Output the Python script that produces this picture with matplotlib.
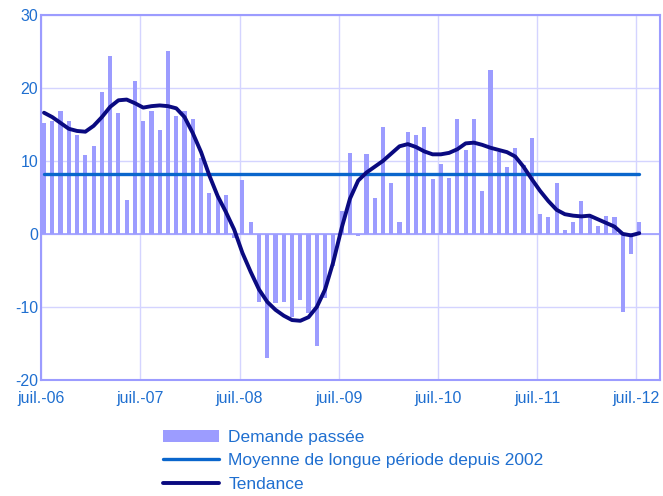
import numpy as np
import matplotlib
matplotlib.use("Agg")
import matplotlib.pyplot as plt

plt.rcParams["font.family"] = ["Liberation Sans", "DejaVu Sans"]
plt.rcParams["axes.unicode_minus"] = False

# monthly values, juil.-06 .. juil.-12
demande = [15.2, 15.4, 16.9, 15.4, 13.6, 10.8, 12.1, 19.5, 24.3, 16.5,
           4.6, 20.9, 15.4, 16.9, 14.3, 25.0, 16.2, 16.9, 15.8, 10.4,
           5.6, 5.2, 5.3, -0.6, 7.4, 1.6, -9.3, -17.0, -9.4, -9.3,
           -11.4, -9.0, -10.9, -15.3, -8.8, -4.4, 3.1, 11.1, -0.3, 10.9,
           4.9, 14.7, 7.0, 1.6, 14.0, 13.6, 14.7, 7.5, 9.6, 7.7,
           15.8, 11.5, 15.8, 5.9, 22.4, 11.2, 9.2, 11.8, 9.5, 13.2,
           2.7, 2.3, 7.0, 0.5, 1.6, 4.5, 2.3, 1.1, 2.4, 2.3,
           -10.7, -2.8, 1.6]
tendance = [16.6, 16.0, 15.2, 14.4, 14.1, 14.0, 14.8, 16.0, 17.4, 18.3,
            18.4, 17.9, 17.3, 17.5, 17.6, 17.5, 17.2, 16.0, 13.8, 11.2,
            8.0, 5.2, 3.0, 0.6, -2.6, -5.2, -7.6, -9.3, -10.4, -11.2,
            -11.8, -11.9, -11.4, -10.0, -7.6, -3.8, 0.8, 4.8, 7.3, 8.4,
            9.2, 10.0, 11.0, 12.0, 12.3, 11.9, 11.3, 10.9, 10.9, 11.1,
            11.6, 12.4, 12.5, 12.2, 11.8, 11.5, 11.2, 10.6, 9.2, 7.5,
            5.9, 4.5, 3.3, 2.7, 2.5, 2.4, 2.5, 2.0, 1.5, 1.0,
            0.0, -0.2, 0.1]
moyenne = 8.2
tick_labels = ["juil.-06", "juil.-07", "juil.-08", "juil.-09",
               "juil.-10", "juil.-11", "juil.-12"]

BLUE_TXT = "#1f6fd0"
BAR = "#9c9cff"
GRID = "#d4d4ff"

fig = plt.figure(figsize=(6.63, 4.96), dpi=100)
ax = fig.add_axes([0.062, 0.234, 0.934, 0.736])

x = np.arange(len(demande)) + 0.35
ax.bar(x, demande, width=0.5, color=BAR, zorder=2, label="Demande passée")
ax.plot([x[0], x[-1]], [moyenne, moyenne], color="#0a66cc", lw=2.4,
        solid_capstyle="round", zorder=3,
        label="Moyenne de longue période depuis 2002")
ax.plot(x, tendance, color="#0a0a80", lw=2.8, zorder=4,
        solid_capstyle="round", label="Tendance")

ax.axhline(0, color=BAR, lw=1.2, zorder=1)
ax.set_xlim(0, 74.9)
ax.set_ylim(-20, 30)
ax.set_yticks(range(-20, 31, 10))
ax.set_xticks(range(0, 73, 12))
ax.set_xticklabels(tick_labels)
ax.grid(True, color=GRID, lw=1.0, zorder=0)
ax.set_axisbelow(True)
for s in ax.spines.values():
    s.set_color(BAR)
    s.set_linewidth(1.5)
ax.tick_params(axis="both", length=0, colors=BLUE_TXT, labelsize=11.5)
ax.tick_params(axis="x", pad=8)
ax.tick_params(axis="y", pad=2)

h, l = ax.get_legend_handles_labels()
order = [2, 0, 1]
leg = fig.legend([h[i] for i in order], [l[i] for i in order],
                 loc="upper left", bbox_to_anchor=(0.246, 0.133),
                 frameon=False, fontsize=12.5, handlelength=3.2,
                 handletextpad=0.55, labelspacing=0.47, borderaxespad=0,
                 borderpad=0)
for t in leg.get_texts():
    t.set_color(BLUE_TXT)

fig.savefig("out.png", dpi=100)
